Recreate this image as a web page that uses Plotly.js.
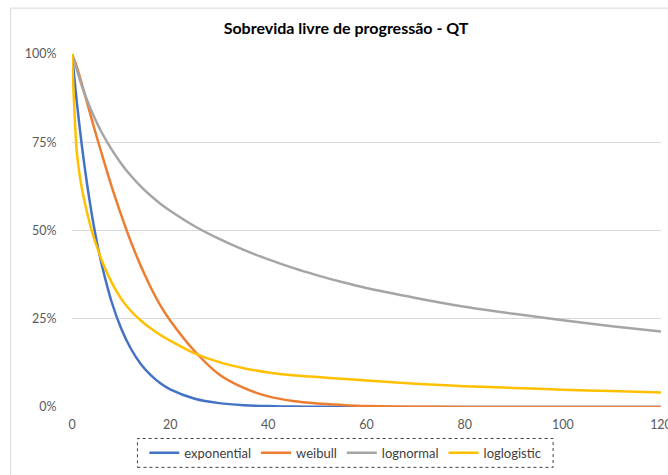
<!DOCTYPE html>
<html>
<head>
<meta charset="utf-8">
<script src="https://cdn.plot.ly/plotly-3.0.1.min.js"></script>
<style>html,body{margin:0;padding:0;background:#fff;}#chart{width:668px;height:475px;}</style>
</head>
<body>
<div id="chart"></div>
<script>
// months
const months = [0,1,2,3,4,5,6,8,10,12,14,16,18,20,25,30,35,40,45,50,55,60,70,80,90,100,110,120];
const exponential = [1,0.861,0.741,0.638,0.549,0.472,0.407,0.301,0.223,0.165,0.122,0.091,0.067,0.050,0.0235,0.011,0.0052,0.0025,0.0012,0.0006,0.0003,0.0001,0,0,0,0,0,0];
const weibull = [1,0.963,0.915,0.866,0.816,0.767,0.72,0.628,0.545,0.468,0.40,0.34,0.288,0.245,0.158,0.092,0.054,0.03,0.017,0.010,0.006,0.003,0.001,0.0003,0,0,0,0];
const lognormal = [1,0.955,0.91,0.872,0.838,0.807,0.779,0.731,0.69,0.655,0.625,0.599,0.576,0.556,0.512,0.476,0.445,0.418,0.394,0.373,0.354,0.337,0.309,0.284,0.264,0.246,0.229,0.214];
const loglogistic = [1,0.72,0.62,0.555,0.50,0.457,0.418,0.355,0.307,0.272,0.245,0.223,0.204,0.188,0.152,0.127,0.11,0.098,0.09,0.085,0.08,0.075,0.066,0.059,0.054,0.049,0.045,0.041];

const seriesNames = ['exponential','weibull','lognormal','loglogistic'];
const seriesData = [exponential, weibull, lognormal, loglogistic];
const seriesColors = ['#4472C4','#ED7D31','#A5A5A5','#FFC000'];

const traces = seriesNames.map((n,i)=>({
  type:'scatter', mode:'lines', name:n, x:months, y:seriesData[i],
  line:{color:seriesColors[i], width:2.5, shape:'spline', smoothing:0.8}
}));

const FONT = 'Lato, "Open Sans", sans-serif';
const layout = {
  width:668, height:475,
  margin:{l:71.5, r:7, t:54.3, b:65.7},
  paper_bgcolor:'#fff', plot_bgcolor:'#fff',
  font:{family:FONT, size:12, color:'#595959'},
  title:{text:'<b>Sobrevida livre de progressão - QT</b>', x:0.518, xanchor:'center', xref:'container',
         y:0.941, yanchor:'middle', yref:'container', font:{family:FONT, size:16, color:'#000'}},
  xaxis:{range:[0,120], tickvals:[0,20,40,60,80,100,120], showgrid:false, zeroline:false,
         showline:false, ticks:'outside', ticklen:6, tickcolor:'rgba(0,0,0,0)', ticklabeloverflow:'allow',
         tickfont:{family:FONT, size:12.5, color:'#595959'}},
  yaxis:{range:[0,1], tickvals:[0,0.25,0.5,0.75,1], tickformat:'.0%', showgrid:true, gridcolor:'#d9d9d9',
         gridwidth:1, zeroline:false, showline:false, ticks:'outside', ticklen:12, tickcolor:'rgba(0,0,0,0)',
         tickfont:{family:FONT, size:12.5, color:'#595959'}},
  showlegend:true,
  legend:{orientation:'h', x:0.464, xanchor:'center', y:-0.13, yanchor:'middle',
          font:{family:FONT, size:13, color:'#404040'}, bgcolor:'rgba(0,0,0,0)', borderwidth:0,
          itemwidth:30, tracegroupgap:0},
  shapes:[
    {type:'line', xref:'paper', yref:'paper', x0:-0.1043, x1:-0.1043, y0:-0.3, y1:1.13, line:{color:'#d9d9d9', width:1}},
    {type:'line', xref:'paper', yref:'paper', x0:-0.1043, x1:1.2, y0:1.13, y1:1.13, line:{color:'#d9d9d9', width:1}},
    {type:'rect', xref:'paper', yref:'paper', x0:0.1111, x1:0.8168, y0:-0.171, y1:-0.0892, line:{color:'#404040', width:1, dash:'dot'}}
  ]
};
Plotly.newPlot('chart', traces, layout, {displayModeBar:false, staticPlot:true});
</script>
</body>
</html>
